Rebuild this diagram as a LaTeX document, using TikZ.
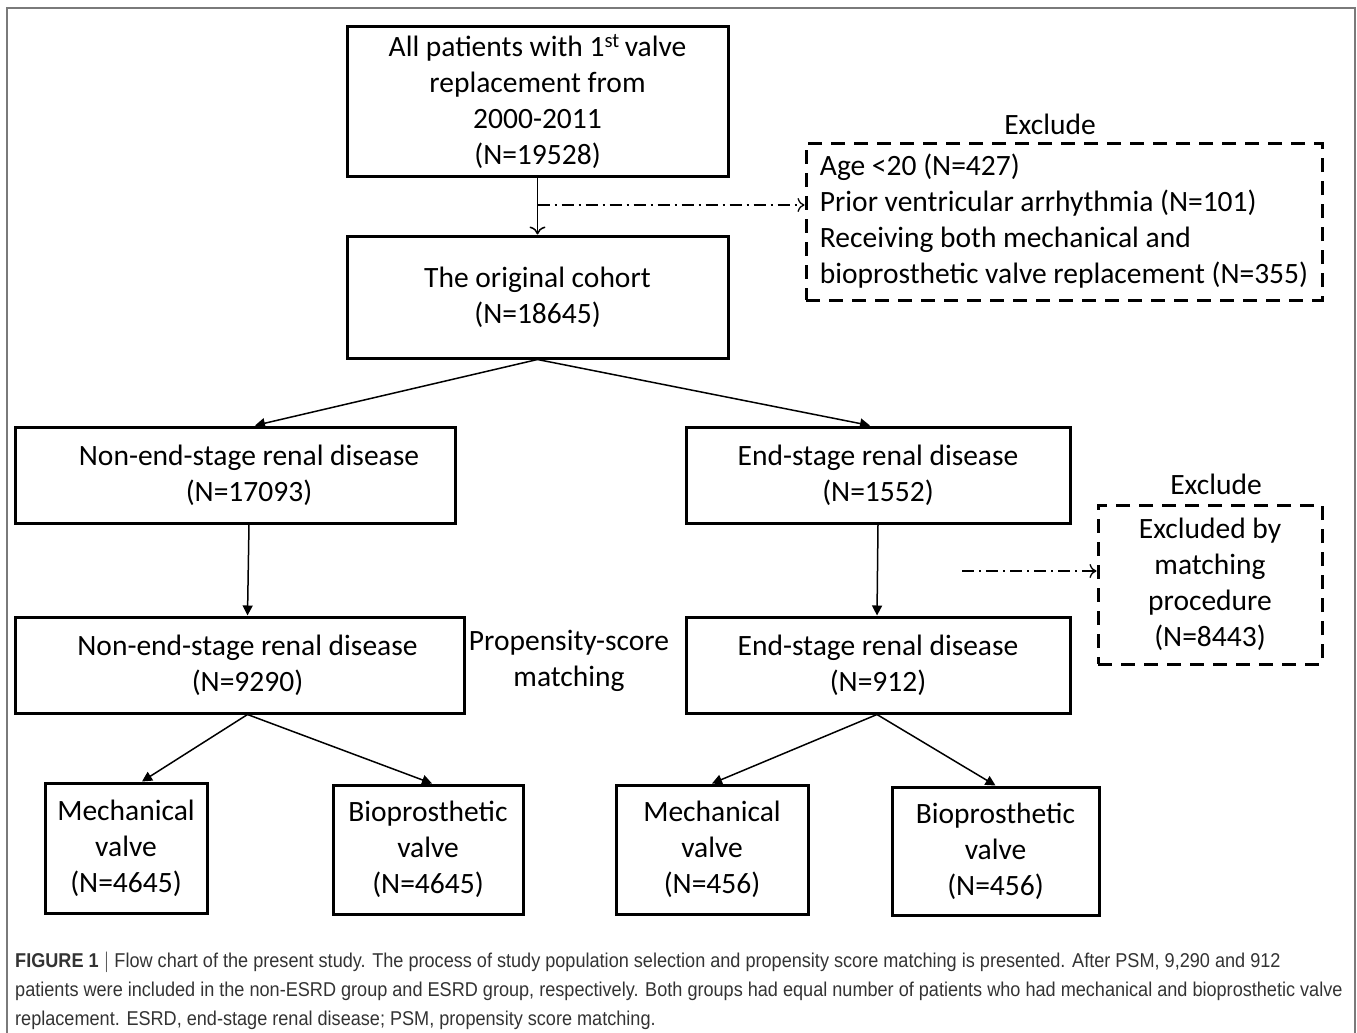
\documentclass[tikz,border=0pt]{standalone}
\usepackage{fontspec}
\setmainfont{Carlito}
\newfontfamily\capfont[FakeStretch=0.905]{Liberation Sans}
\usetikzlibrary{arrows.meta,positioning}
\definecolor{capgray}{HTML}{333333}
\definecolor{framegray}{HTML}{7A7A7A}
\tikzset{
  box/.style={draw=black, line width=3pt, align=center, inner sep=0pt,
    font=\fontsize{29.5}{36}\selectfont},
  exbox/.style={draw=black, line width=3pt, dash pattern=on 14pt off 9pt,
    inner sep=0pt, font=\fontsize{29.5}{36}\selectfont},
  plain/.style={font=\fontsize{29.5}{36}\selectfont, align=center, inner sep=0pt},
  flow/.style={line width=1.5pt, -{Triangle[length=10pt,width=10pt]}},
  openflow/.style={line width=1.5pt, -{To[length=8pt,width=16pt,line width=1.5pt]}},
  dashflow/.style={line width=1.3pt, dash pattern=on 12pt off 5pt on 2pt off 5pt,
    -{To[length=7pt,width=14pt,line width=1.3pt]}},
  caption/.style={anchor=base west, inner sep=0pt, text=capgray,
    font=\capfont\fontsize{20}{29}\selectfont}
}
\begin{document}
\begin{tikzpicture}[x=1pt,y=-1pt]
\useasboundingbox (0,0) rectangle (1357,1033);
\draw[framegray, line width=1.5pt] (7,8) rectangle (1355,1040);

% boxes
\node[box, minimum width=381pt, minimum height=149pt] (top) at (537.5,101.5)
  {All patients with 1\textsuperscript{st}\,valve\\replacement from\\2000-2011\\(N=19528)};
\node[box, minimum width=381pt, minimum height=122pt] (orig) at (537.5,297)
  {The original cohort\\(N=18645)};
\node[box, minimum width=440pt, minimum height=96pt] (nesrd) at (235,475)
  {\hspace*{28pt}Non-end-stage renal disease\\\hspace*{28pt}(N=17093)};
\node[box, minimum width=384pt, minimum height=96pt] (esrd) at (878,475)
  {End-stage renal disease\\(N=1552)};
\node[box, minimum width=449pt, minimum height=96pt] (nesrdm) at (239.5,665)
  {\hspace*{16pt}Non-end-stage renal disease\\\hspace*{16pt}(N=9290)};
\node[box, minimum width=384pt, minimum height=96pt] (esrdm) at (878,665)
  {End-stage renal disease\\(N=912)};
\node[box, minimum width=162pt, minimum height=130pt] (mech1) at (126,848)
  {Mechanical\\valve\\(N=4645)};
\node[box, minimum width=190pt, minimum height=129pt] (bio1) at (428,849.5)
  {Bioprosthetic\\valve\\(N=4645)};
\node[box, minimum width=192pt, minimum height=129pt] (mech2) at (712,849.5)
  {Mechanical\\valve\\(N=456)};
\node[box, minimum width=207pt, minimum height=128pt] (bio2) at (995.5,851)
  {Bioprosthetic\\valve\\(N=456)};

% exclusion boxes
\node[exbox, minimum width=516pt, minimum height=157pt, align=left] (ex1) at (1064,221.5)
  {Age <20 (N=427)\\Prior ventricular arrhythmia (N=101)\\Receiving both mechanical and\\bioprosthetic valve replacement (N=355)};
\node[plain] (ex1lab) at (1050,124) {Exclude};
\node[exbox, minimum width=224pt, minimum height=159pt, align=center] (ex2) at (1210,584.5)
  {Excluded by\\matching\\procedure\\(N=8443)};
\node[plain] (ex2lab) at (1216,484) {Exclude};

\node[plain] (psm) at (569,661) {Propensity-score\\matching};

% connectors
\draw[openflow] (top.south) -- (orig.north);
\coordinate (b1) at (top.south |- 0,205);
\draw[dashflow] (b1) -- (ex1.west |- b1);
\coordinate (b2) at (962,571);
\draw[dashflow] (b2) -- (ex2.west |- b2);

\draw[flow] (orig.south) -- ([xshift=20pt]nesrd.north);
\draw[flow] (orig.south) -- ([xshift=-8pt]esrd.north);
\draw[flow] ([xshift=14pt]nesrd.south) -- ([xshift=8pt]nesrdm.north);
\draw[flow] (esrd.south) -- ([xshift=-1pt]esrdm.north);
\draw[flow] ([xshift=8pt]nesrdm.south) -- ([xshift=16pt]mech1.north);
\draw[flow] ([xshift=8pt]nesrdm.south) -- ([xshift=4pt]bio1.north);
\draw[flow] ([xshift=-1pt]esrdm.south) -- (mech2.north);
\draw[flow] ([xshift=-1pt]esrdm.south) -- (bio2.north);

% caption
\node[caption] (cap1) at (15,967) {{\bfseries FIGURE 1} $|$ Flow chart of the present study. The process of study population selection and propensity score matching is presented. After PSM, 9,290 and 912};
\node[caption] (cap2) at (15,996) {patients were included in the non-ESRD group and ESRD group, respectively. Both groups had equal number of patients who had mechanical and bioprosthetic valve};
\node[caption] (cap3) at (15,1025) {replacement. ESRD, end-stage renal disease; PSM, propensity score matching.};
\end{tikzpicture}
\end{document}
